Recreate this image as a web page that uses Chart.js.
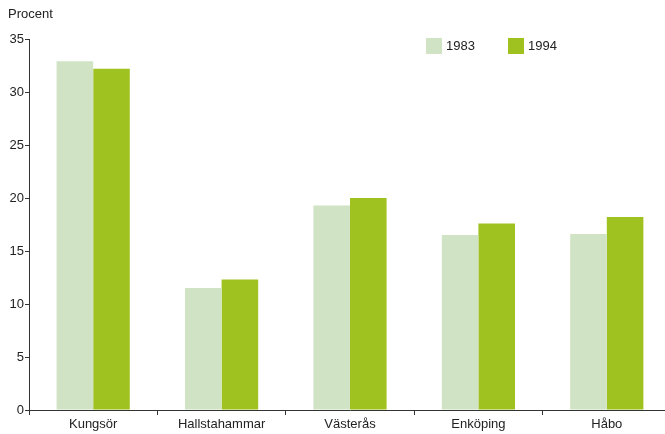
<!DOCTYPE html>
<html>
<head>
<meta charset="utf-8">
<script src="https://cdn.jsdelivr.net/npm/chart.js@4"></script>
<style>
  html, body { margin: 0; padding: 0; background: #fff; overflow: hidden; }
  body { width: 665px; height: 434px; position: relative; font-family: "Liberation Sans", Arial, sans-serif; color: #222; }
  #clip { position: absolute; left: 0; top: 0; width: 665px; height: 434px; overflow: hidden; }
  #wrap { position: absolute; left: 0; top: 0; width: 671px; height: 434px; }
  .ylabel { position: absolute; left: 8px; top: 6px; font-size: 13px; }
  .legend { position: absolute; top: 38px; font-size: 13px; line-height: 16px; }
  .legend span.box { display: inline-block; width: 16px; height: 16px; vertical-align: top; margin-right: 4px; }
</style>
</head>
<body>
<div id="clip"><div id="wrap"><canvas id="chart"></canvas></div></div>
<div class="ylabel">Procent</div>
<div class="legend" style="left:426px"><span class="box" style="background:#d0e4c5"></span>1983</div>
<div class="legend" style="left:508px"><span class="box" style="background:#a0c220"></span>1994</div>
<script>
// ─── DATA ──────────────────────────────────────────────────
const categories = ['Kungsör', 'Hallstahammar', 'Västerås', 'Enköping', 'Håbo'];
const values1983 = [32.9, 11.5, 19.3, 16.5, 16.6];
const values1994 = [32.2, 12.3, 20.0, 17.6, 18.2];
const yTicks     = [0, 5, 10, 15, 20, 25, 30, 35];

const axisColor = '#333';
const font = { family: '"Liberation Sans", Arial, sans-serif', size: 13 };

new Chart(document.getElementById('chart'), {
  type: 'bar',
  data: {
    labels: categories,
    datasets: [
      { label: '1983', data: values1983, backgroundColor: '#d0e4c5', categoryPercentage: 0.57, barPercentage: 1 },
      { label: '1994', data: values1994, backgroundColor: '#a0c220', categoryPercentage: 0.57, barPercentage: 1 },
    ],
  },
  options: {
    responsive: true,
    maintainAspectRatio: false,
    animation: false,
    layout: { padding: { top: 39, right: 0, left: 0, bottom: 0 } },
    plugins: { legend: { display: false }, tooltip: { enabled: false } },
    scales: {
      x: {
        grid: { drawOnChartArea: false, tickLength: 5, color: axisColor },
        border: { color: axisColor },
        ticks: { font, color: '#222', padding: 2, maxRotation: 0 },
        afterFit: s => { s.height = 24; },
      },
      y: {
        min: 0,
        max: 35,
        afterBuildTicks: s => { s.ticks = yTicks.map(v => ({ value: v })); },
        grid: { drawOnChartArea: false, tickLength: 4, color: axisColor },
        border: { color: axisColor },
        ticks: { font, color: '#222', padding: 1 },
        afterFit: s => { s.width = 29; },
      },
    },
  },
});
</script>
</body>
</html>
